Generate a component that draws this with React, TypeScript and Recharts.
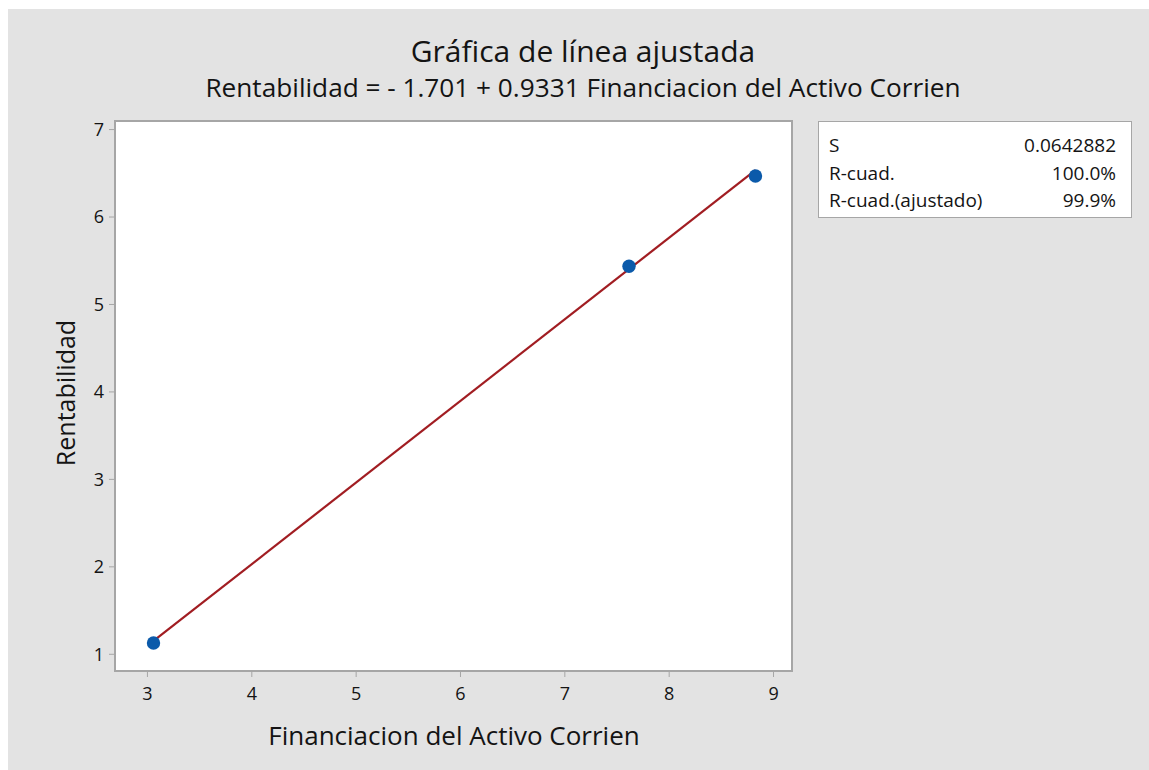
import React from 'react';
import {
  CartesianGrid,
  ReferenceArea,
  Scatter,
  ScatterChart,
  XAxis,
  YAxis,
} from 'recharts';

// Observed pairs: Financiacion del Activo Corrien (x) vs Rentabilidad (y)
const financiacion = [3.058, 7.615, 8.827];
const rentabilidad = [1.129, 5.437, 6.469];

// Regression coefficients shown in the subtitle
const intercept = -1.701;
const slope = 0.9331;

const xTicks = [3, 4, 5, 6, 7, 8, 9];
const yTicks = [1, 2, 3, 4, 5, 6, 7];
const xDomain: [number, number] = [2.689, 9.177];
const yDomain: [number, number] = [0.809, 7.098];

const statLabels = ['S', 'R-cuad.', 'R-cuad.(ajustado)'];
const statValues = ['0.0642882', '100.0%', '99.9%'];

const FONT = '"Open Sans", "Noto Sans", sans-serif';
const BG = '#e3e3e3';
const FRAME = '#a6a6a6';
const INK = '#141414';

const points = financiacion.map((x, i) => ({ x, y: rentabilidad[i] }));
const xMin = Math.min(...financiacion);
const xMax = Math.max(...financiacion);
const fitted = [xMin, xMax].map((x) => ({ x, y: intercept + slope * x }));

const Dot = (props: any) => <circle cx={props.cx} cy={props.cy} r={6.7} fill="#0b5aaa" />;
const NoDot = () => <g />;

export default function App() {
  const tick = { fontSize: 18, fontWeight: 500, fill: INK, fontFamily: FONT };
  return (
    <div
      style={{
        position: 'fixed',
        left: 8,
        top: 9,
        right: 0,
        bottom: 0,
        minWidth: 1141,
        background: BG,
        fontFamily: FONT,
        color: INK,
      }}
    >
      <div style={{ position: 'absolute', left: 0, width: 1150, top: 22, textAlign: 'center', fontSize: 30, lineHeight: '40px' }}>
        Gráfica de línea ajustada
      </div>
      <div style={{ position: 'absolute', left: 0, width: 1150, top: 61, textAlign: 'center', fontSize: 26.2, lineHeight: '34px' }}>
        {`Rentabilidad = - ${Math.abs(intercept).toFixed(3)} + ${slope} Financiacion del Activo Corrien`}
      </div>

      <ScatterChart width={1141} height={761} margin={{ top: 112, right: 357, bottom: 0, left: 0 }}>
        <CartesianGrid horizontal={false} vertical={false} fill="#ffffff" />
        <XAxis
          type="number"
          dataKey="x"
          domain={xDomain}
          ticks={xTicks}
          allowDataOverflow
          height={99}
          axisLine={false}
          tickSize={6}
          tickMargin={10}
          tickLine={{ stroke: FRAME }}
          tick={tick}
        />
        <YAxis
          type="number"
          dataKey="y"
          domain={yDomain}
          ticks={yTicks}
          allowDataOverflow
          width={107}
          axisLine={false}
          tickSize={6}
          tickMargin={5}
          tickLine={{ stroke: FRAME }}
          tick={tick}
        />
        <ReferenceArea
          x1={xDomain[0]}
          x2={xDomain[1]}
          y1={yDomain[0]}
          y2={yDomain[1]}
          fill="none"
          fillOpacity={0}
          stroke={FRAME}
          strokeWidth={2}
        />
        <Scatter
          data={fitted}
          line={{ stroke: '#a11d22', strokeWidth: 2.2 }}
          shape={NoDot}
          isAnimationActive={false}
        />
        <Scatter data={points} shape={Dot} isAnimationActive={false} />
      </ScatterChart>

      <div
        style={{
          position: 'absolute',
          left: 57,
          top: 384,
          transform: 'translate(-50%, -50%) rotate(-90deg)',
          fontSize: 25,
          whiteSpace: 'nowrap',
        }}
      >
        Rentabilidad
      </div>
      <div style={{ position: 'absolute', left: 0, width: 892, top: 709, textAlign: 'center', fontSize: 26, lineHeight: '34px' }}>
        Financiacion del Activo Corrien
      </div>

      <div
        style={{
          position: 'absolute',
          left: 810,
          top: 112,
          width: 314,
          height: 97,
          background: '#ffffff',
          border: `1px solid ${FRAME}`,
          fontSize: 19,
          lineHeight: '27.5px',
          padding: '10px 15px 0 10px',
          boxSizing: 'border-box',
        }}
      >
        {statLabels.map((l, i) => (
          <div key={l} style={{ display: 'flex', justifyContent: 'space-between' }}>
            <span>{l}</span>
            <span>{statValues[i]}</span>
          </div>
        ))}
      </div>
    </div>
  );
}
